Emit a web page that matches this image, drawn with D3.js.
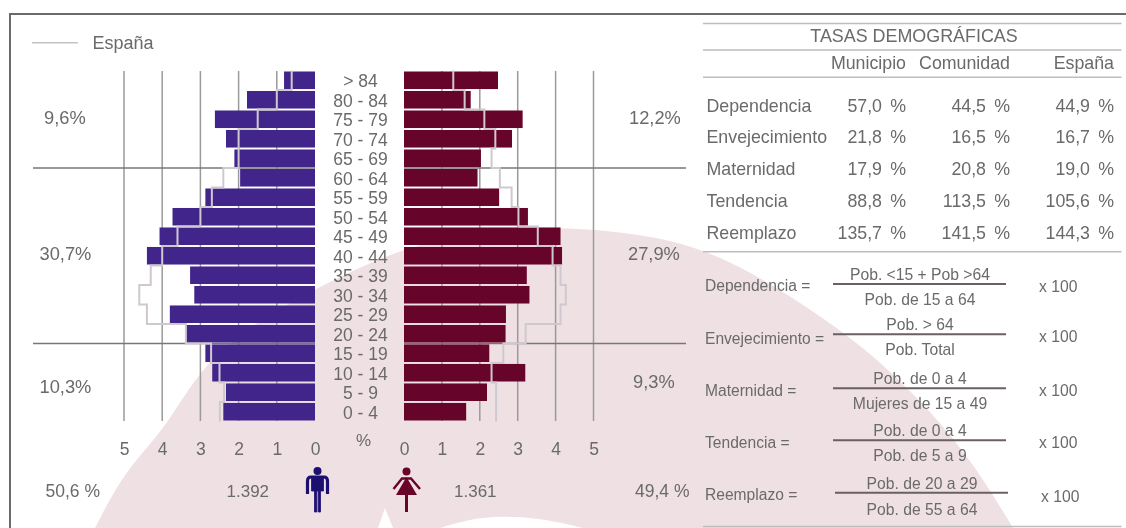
<!DOCTYPE html>
<html lang="es">
<head>
<meta charset="utf-8">
<title>Pirámide de población</title>
<script src="https://cdn.jsdelivr.net/npm/d3@7"></script>
<style>
    html, body { margin: 0; padding: 0; background: #fff; }
    svg { display: block; filter: blur(0.4px); }
    text { font-family: "Liberation Sans", Arial, sans-serif; fill: #6a6a6a; }
</style>
</head>
<body>
<svg id="chart" width="1126" height="528"></svg>
<script>
// Datos de la pirámide (% de población por grupo de edad)
const edades = ['> 84', '80 - 84', '75 - 79', '70 - 74', '65 - 69', '60 - 64', '55 - 59', '50 - 54', '45 - 49',
    '40 - 44', '35 - 39', '30 - 34', '25 - 29', '20 - 24', '15 - 19', '10 - 14', '5 - 9', '0 - 4'];
const hombres = [0.81, 1.78, 2.62, 2.33, 2.11, 1.96, 2.87, 3.73, 4.07, 4.40, 3.27, 3.16, 3.80, 3.38, 2.87, 2.69, 2.33, 2.40];
const mujeres = [2.48, 1.76, 3.13, 2.85, 2.03, 1.94, 2.51, 3.27, 4.13, 4.17, 3.24, 3.31, 2.69, 2.68, 2.25, 3.20, 2.19, 1.64];
const hombresEspana = [0.61, 1.00, 1.50, 2.00, 2.00, 2.40, 2.70, 3.00, 3.60, 4.00, 4.30, 4.60, 4.40, 3.38, 2.72, 2.50, 2.38, 2.49];
const mujeresEspana = [1.30, 1.60, 2.12, 2.41, 2.31, 2.53, 2.84, 3.02, 3.53, 3.92, 4.13, 4.27, 4.13, 3.21, 2.62, 2.31, 2.43, 2.43];
const ticksPct = [0, 1, 2, 3, 4, 5];

// Tabla de tasas
const tasas = ['Dependencia', 'Envejecimiento', 'Maternidad', 'Tendencia', 'Reemplazo'];
const columnas = ['Municipio', 'Comunidad', 'España'];
const tasaMunicipio = ['57,0', '21,8', '17,9', '88,8', '135,7'];
const tasaComunidad = ['44,5', '16,5', '20,8', '113,5', '141,5'];
const tasaEspana = ['44,9', '16,7', '19,0', '105,6', '144,3'];

// Fórmulas
const numeradores = ['Pob. <15 + Pob >64', 'Pob. > 64', 'Pob. de 0 a 4', 'Pob. de 0 a 4', 'Pob. de 20 a 29'];
const denominadores = ['Pob. de 15 a 64', 'Pob. Total', 'Mujeres de 15 a 49', 'Pob. de 5 a 9', 'Pob. de 55 a 64'];

const svg = d3.select('#chart');

const xHombres = d3.scaleLinear().domain([0, 5]).range([315, 124]);
const xMujeres = d3.scaleLinear().domain([0, 5]).range([404, 593.5]);
const y = d3.scaleBand().domain(edades).range([71.5, 420.5]).paddingInner(0.1);

function texto(x, yPos, contenido, size, anchor) {
    return svg.append('text')
        .attr('x', x)
        .attr('y', yPos)
        .attr('font-size', size)
        .attr('text-anchor', anchor || 'start')
        .text(contenido);
}

// Fondo: forma rosa del logotipo
function dibujarFondo() {
    const arco = [[95, 528], [125, 470], [167, 427], [200, 367], [260, 318], [333, 280], [397, 250], [470, 232], [557, 226],
        [640, 234], [690, 245], [733, 263], [773, 285], [857, 340], [923, 402], [973, 462], [1013, 528]];
    svg.append('path')
        .attr('d', d3.line().curve(d3.curveBasis)(arco) + 'Z')
        .attr('fill', '#efe0e3');

    const hueco = [[440, 528], [470, 519], [500, 516], [540, 518], [583, 528]];
    svg.append('path')
        .attr('d', d3.line().curve(d3.curveBasis)(hueco) + 'Z')
        .attr('fill', '#fff');
    svg.append('path')
        .attr('d', 'M385,508 L378,528 L393,528 Z')
        .attr('fill', '#fff');

    // Marco
    svg.append('path')
        .attr('d', 'M10,528 V14 H1126')
        .attr('fill', 'none')
        .attr('stroke', '#6a6a6a')
        .attr('stroke-width', 2);
}

// Pirámide: rejilla, barras y línea de España
function dibujarPiramide(x, valores, valoresEspana, color, limite) {
    const grupo = svg.append('g');

    grupo.selectAll('.rejilla')
        .data(ticksPct.slice(1))
        .enter()
        .append('line')
        .attr('x1', d => x(d))
        .attr('x2', d => x(d))
        .attr('y1', 71)
        .attr('y2', 421)
        .attr('stroke', '#9a9a9a')
        .attr('stroke-width', 1.5);

    // Líneas de separación de los grandes grupos de edad
    ['65 - 69', '20 - 24'].forEach(edad => {
        const yLinea = y(edad) + y.step() - y.paddingInner() * y.step() / 2;
        grupo.append('line')
            .attr('x1', x(0))
            .attr('x2', limite)
            .attr('y1', yLinea)
            .attr('y2', yLinea)
            .attr('stroke', '#777')
            .attr('stroke-width', 1.4);
    });

    grupo.selectAll('.barra')
        .data(valores)
        .enter()
        .append('rect')
        .attr('x', d => Math.min(x(0), x(d)))
        .attr('y', (d, i) => y(edades[i]))
        .attr('width', d => Math.abs(x(d) - x(0)))
        .attr('height', y.bandwidth())
        .attr('fill', color);

    const margen = (y.step() - y.bandwidth()) / 2;
    const puntos = valoresEspana.flatMap((d, i) => [
        [x(d), y(edades[i]) - margen],
        [x(d), y(edades[i]) + y.bandwidth() + margen]
    ]);
    grupo.append('path')
        .attr('d', d3.line()(puntos))
        .attr('fill', 'none')
        .attr('stroke', '#cfc9cf')
        .attr('stroke-width', 2);

    const eje = grupo.append('g')
        .attr('transform', 'translate(0,439)')
        .call(d3.axisBottom(x).tickValues(ticksPct).tickSize(0).tickFormat(d3.format('d')));
    eje.select('.domain').remove();
    eje.selectAll('text')
        .attr('font-size', 17.5)
        .attr('dy', '0.71em')
        .attr('y', 4);
    eje.attr('font-family', null).attr('font-size', null);
}

function dibujarEtiquetas() {
    svg.selectAll('.edad')
        .data(edades)
        .enter()
        .append('text')
        .attr('x', 360.5)
        .attr('y', d => y(d) + y.bandwidth() / 2 + 7)
        .attr('text-anchor', 'middle')
        .attr('font-size', 17.5)
        .text(d => d);

    svg.append('line')
        .attr('x1', 32)
        .attr('x2', 78)
        .attr('y1', 42.7)
        .attr('y2', 42.7)
        .attr('stroke', '#c4c4c4')
        .attr('stroke-width', 1.6);
    texto(92.5, 49, 'España', 18);

    texto(44, 124.3, '9,6%', 18.3);
    texto(39.5, 260, '30,7%', 18.3);
    texto(39.5, 393.3, '10,3%', 18.3);
    texto(45.5, 496.7, '50,6 %', 17.5);
    texto(226.5, 496.7, '1.392', 17);

    texto(629, 124.3, '12,2%', 18.3);
    texto(628, 260, '27,9%', 18.3);
    texto(633, 387.7, '9,3%', 18.3);
    texto(635, 496.7, '49,4 %', 17.5);
    texto(454, 496.7, '1.361', 17);

    texto(356, 446, '%', 17);
}

// Iconos de hombre y mujer
function dibujarIconos() {
    const hombre = svg.append('g').attr('fill', '#1c0f72').attr('stroke', '#1c0f72');
    hombre.append('circle').attr('cx', 317.5).attr('cy', 471).attr('r', 4).attr('stroke', 'none');
    hombre.append('path')
        .attr('d', 'M307.5,494 V481 Q307.5,477 311,477 H324 Q327.5,477 327.5,481 V494')
        .attr('fill', 'none')
        .attr('stroke-width', 3.2);
    hombre.append('path')
        .attr('d', 'M311.5,477 H323.5 V491 H320.5 V512 H318.2 V491 H316.8 V512 H314.5 V491 H311.5 Z')
        .attr('stroke-width', 0.8);

    const mujer = svg.append('g').attr('fill', '#6a0328').attr('stroke', '#6a0328');
    mujer.append('circle').attr('cx', 406.5).attr('cy', 471.5).attr('r', 4).attr('stroke', 'none');
    mujer.append('path').attr('d', 'M406.5,477 L417,495 H396 Z').attr('stroke', 'none');
    mujer.append('path')
        .attr('d', 'M393.5,489 L402,478.5 H411 L420,489')
        .attr('fill', 'none')
        .attr('stroke-width', 2.4);
    mujer.append('line')
        .attr('x1', 406.5)
        .attr('x2', 406.5)
        .attr('y1', 494)
        .attr('y2', 512)
        .attr('stroke-width', 3);
}

// Tabla de tasas demográficas
function dibujarTabla() {
    [23.5, 50, 77.3, 251.7, 526.5].forEach(yLinea => {
        svg.append('line')
            .attr('x1', 703)
            .attr('x2', 1121.5)
            .attr('y1', yLinea)
            .attr('y2', yLinea)
            .attr('stroke', '#bdbdbd')
            .attr('stroke-width', 1.6);
    });

    texto(914, 42.3, 'TASAS DEMOGRÁFICAS', 17.9, 'middle');

    const xColumna = d3.scaleOrdinal().domain(columnas).range([906, 1010, 1114]);
    const yFila = d3.scalePoint().domain(tasas).range([111.7, 238.5]);

    columnas.forEach(c => texto(xColumna(c), 69.3, c, 17.8, 'end'));

    tasas.forEach((t, i) => {
        texto(706.5, yFila(t), t, 17.8);
        [tasaMunicipio, tasaComunidad, tasaEspana].forEach((serie, j) => {
            const xCol = xColumna(columnas[j]);
            texto(xCol - 24, yFila(t), serie[i], 17.8, 'end');
            texto(xCol, yFila(t), '%', 17.8, 'end');
        });
    });
}

// Fórmulas de las tasas
function dibujarFormulas() {
    const yEtiqueta = [290.7, 344, 395.7, 448, 500];
    const yRaya = [284, 334.3, 388.3, 440.3, 492.7];
    const yNum = [280, 330, 384, 436, 489];
    const yDen = [305, 355, 409, 461, 515];
    const yPor = [291.7, 341.7, 395.7, 447.7, 501.7];

    tasas.forEach((t, i) => {
        const dx = i === 4 ? 2 : 0;
        texto(705, yEtiqueta[i], t + ' =', 15.6);
        svg.append('line')
            .attr('x1', 833 + dx)
            .attr('x2', 1006 + dx)
            .attr('y1', yRaya[i])
            .attr('y2', yRaya[i])
            .attr('stroke', '#6a5f62')
            .attr('stroke-width', 2);
        texto(920 + dx, yNum[i], numeradores[i], 15.7, 'middle');
        texto(920 + dx, yDen[i], denominadores[i], 15.7, 'middle');
        texto(1039 + dx, yPor[i], 'x 100', 15.7);
    });
}

dibujarFondo();
dibujarPiramide(xHombres, hombres, hombresEspana, '#42258a', 33);
dibujarPiramide(xMujeres, mujeres, mujeresEspana, '#67042a', 686);
dibujarEtiquetas();
dibujarIconos();
dibujarTabla();
dibujarFormulas();
</script>
</body>
</html>
